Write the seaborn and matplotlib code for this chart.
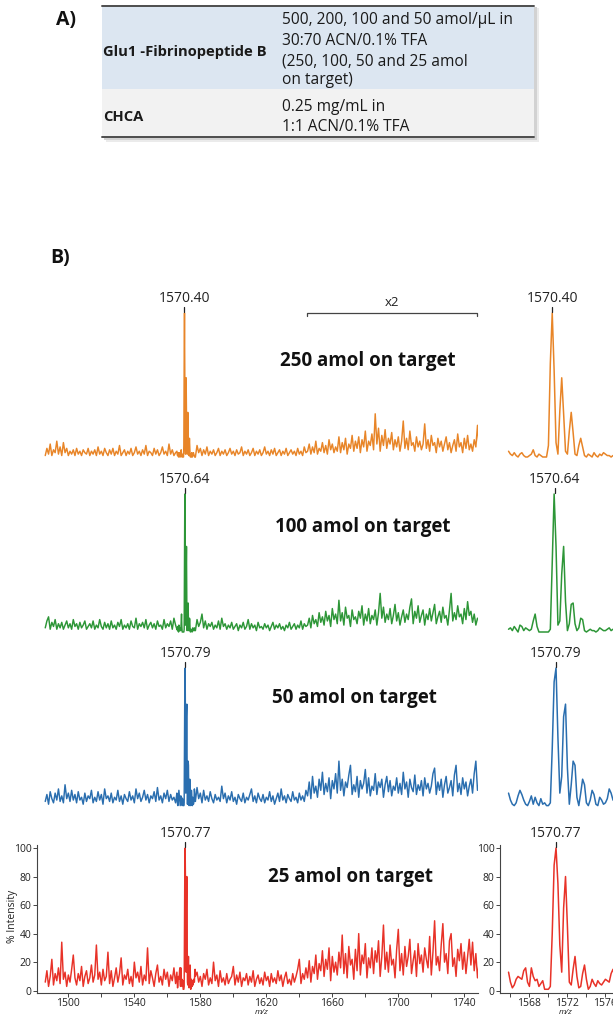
import numpy as np
import pandas as pd
import matplotlib.pyplot as plt
import seaborn as sns
from matplotlib.patches import Rectangle
from matplotlib.lines import Line2D
from matplotlib.ticker import MultipleLocator

sns.set_style("white")
plt.rcParams['font.family'] = ['Open Sans', 'DejaVu Sans']

W, H = 613, 1017

# ---- data -------------------------------------------------------------
amounts = ["250 amol on target", "100 amol on target", "50 amol on target", "25 amol on target"]
peak_labels = ["1570.40", "1570.64", "1570.79", "1570.77"]
peak_mz = [1570.40, 1570.64, 1570.79, 1570.77]
colors = ["#E88528", "#2D9637", "#2A6EAF", "#E83228"]

# noise, 1 m/z apart:
# left of the peak (from 1486), between peak and x2 zone (from 1578), x2 zone (from 1645)
left_start, mid_start, x2_start, noise_step = 1486, 1578, 1645, 1.0
# high-resolution profile around the peak (right-hand panels), 0.2 m/z apart
zoom_start, zoom_step = 1565.8, 0.2

left_250 = [1, 6, 2, 9, 1, 5, 3, 11, 2, 7,
            1, 10, 3, 6, 1, 4, 2, 5, 1, 6,
            2, 4, 1, 5, 3, 2, 6, 1, 4, 2,
            5, 1, 7, 2, 4, 1, 6, 3, 1, 5,
            2, 6, 1, 4, 2, 8, 1, 3, 5, 1,
            4, 2, 6, 1, 3, 7, 2, 4, 1, 5,
            2, 8, 1, 4, 3, 1, 6, 2, 5, 1,
            3, 7, 2, 4, 1, 9, 2, 5, 1, 3]
mid_250 = [8, 3, 6, 1, 5, 2, 7, 1, 4, 2,
           5, 1, 3, 6, 1, 4, 2, 5, 1, 3,
           6, 2, 4, 1, 5, 2, 3, 7, 1, 4,
           2, 5, 1, 3, 6, 1, 4, 2, 5, 1,
           3, 7, 2, 4, 1, 5, 2, 6, 1, 3,
           5, 1, 4, 2, 6, 1, 3, 5, 2, 4,
           1, 6, 2, 4, 1, 7, 3]
x2_250 = [4, 9, 2, 7, 3, 11, 2, 6, 4, 10,
          3, 8, 2, 12, 5, 9, 3, 7, 4, 14,
          3, 10, 5, 13, 2, 9, 6, 15, 4, 11,
          6, 14, 3, 12, 7, 18, 4, 11, 8, 16,
          5, 30, 9, 20, 4, 15, 8, 19, 6, 13,
          9, 17, 5, 12, 7, 14, 4, 11, 25, 6,
          13, 5, 18, 8, 10, 4, 14, 7, 11, 5,
          9, 23, 6, 12, 4, 15, 8, 10, 3, 13,
          7, 11, 4, 9, 14, 5, 10, 3, 8, 12,
          4, 16, 7, 10, 3, 13, 6, 15, 5, 9,
          4, 12, 7, 22, 6]
zoom_250 = [4, 2, 1, 3, 1, 0, 2, 3, 1, 0,
            0, 1, 2, 5, 1, 0, 2, 1, 0, 0,
            0, 8, 65, 100, 60, 10, 2, 32, 55, 30,
            4, 2, 18, 31, 17, 2, 1, 8, 13, 7,
            1, 0, 2, 1, 0, 3, 1, 0, 2, 1,
            3, 2, 1, 1, 0, 1, 0]

left_100 = [3, 8, 11, 2, 7, 4, 9, 2, 6, 3,
            7, 2, 5, 8, 3, 6, 2, 9, 4, 6,
            2, 7, 3, 5, 8, 2, 4, 6, 3, 8,
            2, 5, 3, 9, 4, 2, 7, 3, 6, 2,
            8, 3, 5, 2, 7, 4, 9, 2, 5, 3,
            6, 2, 8, 4, 3, 10, 2, 6, 4, 7,
            3, 9, 2, 5, 7, 3, 6, 2, 8, 4,
            5, 2, 9, 3, 6, 4, 8, 2, 10, 5]
mid_100 = [9, 4, 7, 13, 3, 8, 2, 6, 4, 7,
           2, 5, 3, 8, 2, 10, 4, 6, 2, 5,
           3, 7, 2, 4, 6, 1, 5, 3, 7, 2,
           4, 9, 2, 6, 3, 5, 1, 7, 3, 4,
           2, 6, 3, 5, 1, 4, 7, 2, 5, 3,
           6, 2, 4, 1, 5, 3, 7, 2, 4, 6,
           2, 5, 3, 8, 2, 6, 4]
x2_100 = [5, 10, 3, 12, 6, 9, 4, 14, 7, 11,
          5, 15, 8, 12, 4, 17, 9, 13, 6, 23,
          8, 14, 5, 18, 10, 12, 4, 16, 9, 11,
          6, 15, 10, 19, 5, 13, 8, 17, 6, 12,
          9, 16, 5, 14, 28, 10, 18, 7, 13, 9,
          17, 6, 12, 20, 8, 14, 5, 11, 16, 7,
          13, 9, 18, 24, 6, 15, 10, 19, 7, 12,
          16, 5, 13, 9, 17, 8, 14, 20, 6, 11,
          15, 7, 18, 10, 12, 5, 16, 28, 8, 14,
          9, 19, 11, 13, 6, 17, 9, 22, 12, 15,
          7, 13, 5, 10, 8]
zoom_100 = [2, 3, 1, 4, 2, 0, 5, 4, 1, 3,
            2, 1, 2, 8, 13, 4, 0, 0, 0, 0,
            0, 0, 2, 50, 100, 62, 5, 8, 42, 62,
            22, 1, 6, 20, 21, 6, 1, 3, 10, 9,
            1, 0, 1, 2, 1, 1, 0, 1, 3, 2,
            1, 1, 2, 3, 1, 2, 1]

left_50 = [4, 9, 2, 11, 6, 3, 10, 5, 13, 4,
           8, 3, 16, 6, 10, 4, 12, 5, 9, 3,
           11, 5, 7, 2, 10, 4, 8, 6, 12, 3,
           7, 4, 11, 5, 9, 2, 13, 6, 8, 4,
           10, 3, 7, 5, 12, 4, 8, 2, 9, 6,
           4, 11, 5, 8, 3, 13, 6, 10, 4, 7,
           12, 5, 9, 3, 8, 6, 11, 4, 14, 5,
           8, 3, 10, 6, 12, 4, 9, 5, 7, 3]
mid_50 = [14, 6, 10, 3, 12, 5, 8, 4, 11, 6,
          3, 9, 5, 7, 4, 15, 6, 10, 3, 8,
          5, 11, 4, 7, 2, 9, 6, 4, 10, 3,
          7, 5, 9, 13, 4, 8, 3, 10, 6, 4,
          9, 3, 7, 5, 11, 4, 8, 2, 6, 10,
          4, 13, 5, 8, 3, 9, 6, 4, 11, 5,
          7, 3, 10, 5, 8, 4, 12]
x2_50 = [8, 18, 6, 22, 10, 15, 7, 20, 12, 25,
         9, 17, 11, 21, 6, 19, 13, 24, 10, 33,
         12, 20, 8, 18, 14, 23, 30, 9, 16, 11,
         22, 7, 19, 13, 17, 27, 10, 21, 8, 15,
         12, 24, 9, 18, 14, 20, 7, 16, 22, 11,
         19, 8, 15, 12, 21, 10, 17, 9, 25, 13,
         18, 7, 20, 14, 11, 23, 9, 16, 12, 19,
         8, 21, 13, 17, 10, 15, 24, 28, 9, 18,
         12, 20, 7, 16, 22, 10, 14, 19, 8, 23,
         30, 11, 17, 9, 21, 13, 18, 8, 15, 20,
         10, 24, 33, 12, 17]
zoom_50 = [10, 5, 2, 1, 3, 8, 12, 9, 5, 2,
           1, 4, 8, 2, 7, 3, 1, 6, 2, 3,
           1, 1, 3, 42, 90, 100, 50, 10, 22, 65,
           74, 28, 2, 16, 33, 30, 7, 1, 10, 20,
           16, 3, 1, 5, 12, 9, 2, 1, 7, 5,
           2, 3, 6, 13, 10, 5, 4]

left_25 = [6, 14, 3, 10, 22, 4, 12, 7, 16, 5,
           34, 8, 13, 3, 11, 6, 15, 25, 9, 4,
           12, 7, 17, 3, 10, 14, 5, 9, 18, 6,
           11, 32, 8, 13, 4, 15, 7, 10, 27, 5,
           14, 3, 9, 16, 6, 12, 23, 4, 11, 8,
           15, 5, 10, 3, 20, 9, 13, 6, 17, 4,
           11, 7, 30, 5, 14, 9, 3, 12, 18, 6,
           10, 4, 15, 8, 13, 3, 11, 7, 16, 5]
mid_25 = [13, 6, 10, 3, 12, 8, 15, 4, 9, 5,
          20, 7, 11, 3, 14, 6, 9, 4, 12, 5,
          8, 10, 17, 4, 11, 6, 13, 3, 9, 7,
          12, 4, 10, 6, 14, 3, 8, 11, 5, 9,
          4, 13, 7, 10, 3, 12, 6, 9, 5, 14,
          7, 11, 3, 9, 13, 5, 8, 4, 12, 6,
          10, 15, 22, 5, 12, 8, 16]
x2_25 = [9, 21, 6, 17, 12, 25, 8, 19, 14, 28,
         10, 22, 15, 30, 7, 24, 13, 20, 11, 27,
         16, 39, 12, 26, 9, 31, 18, 22, 8, 29,
         14, 40, 11, 25, 19, 33, 9, 23, 16, 30,
         12, 28, 20, 35, 10, 24, 46, 15, 27, 13,
         32, 18, 22, 9, 29, 43, 14, 26, 11, 31,
         17, 24, 36, 12, 21, 28, 10, 33, 19, 25,
         13, 30, 22, 16, 38, 11, 27, 49, 18, 24,
         14, 32, 47, 20, 26, 12, 35, 40, 17, 23,
         10, 29, 21, 33, 15, 27, 12, 24, 36, 18,
         34, 14, 26, 9, 20]
zoom_25 = [13, 6, 2, 4, 8, 10, 9, 8, 14, 16,
           6, 3, 16, 10, 7, 8, 3, 5, 7, 1,
           1, 1, 3, 40, 88, 100, 75, 32, 13, 58,
           80, 45, 6, 4, 15, 24, 10, 2, 3, 12,
           18, 8, 1, 3, 8, 5, 3, 7, 5, 4,
           6, 8, 7, 6, 12, 15, 10]

left_noise = [left_250, left_100, left_50, left_25]
mid_noise = [mid_250, mid_100, mid_50, mid_25]
x2_noise = [x2_250, x2_100, x2_50, x2_25]
zooms = [zoom_250, zoom_100, zoom_50, zoom_25]

main_ticks = [1500, 1520, 1540, 1560, 1580, 1600, 1620, 1640, 1660, 1680, 1700, 1720, 1740]
main_tick_labels = ["1500", "", "1540", "", "1580", "", "1620", "", "1660", "", "1700", "", "1740"]
zoom_ticks = [1566, 1568, 1570, 1572, 1574, 1576]
zoom_tick_labels = ["", "1568", "", "1572", "", "1576"]
y_ticks = [0, 20, 40, 60, 80, 100]

# ---- layout (pixel positions) ----------------------------------------
rows_px = [(313, 457), (494, 632), (668, 807), (848, 990.7)]
label_px = [(368, 361), (363, 527), (354, 698), (351, 877)]
main_x = (37, 478)
zoom_x = (500, 613)
main_xlim = (1481, 1748.3)
zoom_xlim = (1564.9, 1576.8)
YLIM = (-1.5, 102)
dark = "#222222"
axis_gray = "#444444"

fig = plt.figure(figsize=(W / 100, H / 100), dpi=100)


def axes_px(x0, x1, y100, y0):
    s = (y0 - y100) / 100.0
    bot = y0 - YLIM[0] * s
    top = y100 - (YLIM[1] - 100) * s
    return fig.add_axes([x0 / W, 1 - bot / H, (x1 - x0) / W, (bot - top) / H])


def ftext(x, y, s, **kw):
    fig.text(x / W, 1 - y / H, s, **kw)


def spectrum(i):
    zx = zoom_start + zoom_step * np.arange(len(zooms[i]))
    parts_x, parts_y = [], []
    for start, vals in ((left_start, left_noise[i]), (mid_start, mid_noise[i]), (x2_start, x2_noise[i])):
        x = start + noise_step * np.arange(len(vals))
        keep = (x < zx[0]) | (x > zx[-1])
        parts_x.append(x[keep])
        parts_y.append(np.array(vals)[keep])
    parts_x.append(zx)
    parts_y.append(np.array(zooms[i]))
    df = pd.DataFrame({'mz': np.concatenate(parts_x), 'intensity': np.concatenate(parts_y)})
    df = df.sort_values('mz')
    zdf = pd.DataFrame({'mz': zx, 'intensity': zooms[i]})
    return df, zdf


def peak_label(ax, mz, label):
    ax.annotate(label, xy=(mz, 100), xytext=(0, 7), textcoords='offset pixels',
                ha='center', va='bottom', fontsize=10, color=dark, annotation_clip=False)
    ax.plot([mz, mz], [101, 104.5], color=dark, lw=0.9, clip_on=False)


for i in range(4):
    y100, y0 = rows_px[i]
    df, zdf = spectrum(i)

    ax = axes_px(main_x[0], main_x[1], y100, y0)
    sns.lineplot(data=df, x='mz', y='intensity', ax=ax, color=colors[i], lw=1.05,
                 estimator=None, sort=False, legend=False)
    ax.set_xlim(main_xlim)
    ax.set_ylim(YLIM)
    peak_label(ax, peak_mz[i], peak_labels[i])

    axz = axes_px(zoom_x[0], zoom_x[1], y100, y0)
    sns.lineplot(data=zdf, x='mz', y='intensity', ax=axz, color=colors[i], lw=1.1,
                 estimator=None, legend=False)
    axz.set_xlim(zoom_xlim)
    axz.set_ylim(YLIM)
    peak_label(axz, peak_mz[i], peak_labels[i])

    for a in (ax, axz):
        a.set_xlabel("")
        a.set_ylabel("")
        a.set_facecolor("none")
        if i < 3:
            a.axis('off')
        else:
            sns.despine(ax=a)
            for sp in ('left', 'bottom'):
                a.spines[sp].set_color(axis_gray)
                a.spines[sp].set_linewidth(0.8)
            a.set_yticks(y_ticks)
            a.set_yticklabels([str(t) for t in y_ticks])
            a.tick_params(axis='both', direction='out', length=3, width=0.7,
                          colors=axis_gray, labelcolor=dark, labelsize=7.5, pad=1)
            a.tick_params(axis='x', which='minor', direction='out', length=2, width=0.6,
                          colors=axis_gray)
            a.tick_params(left=True, bottom=True)

    ftext(label_px[i][0], label_px[i][1], amounts[i], ha='center', va='center',
          fontsize=13.5, fontweight='bold', color="#111111")

    if i == 3:
        ax.set_xticks(main_ticks)
        ax.set_xticklabels(main_tick_labels)
        ax.xaxis.set_minor_locator(MultipleLocator(10))
        axz.set_xticks(zoom_ticks)
        axz.set_xticklabels(zoom_tick_labels)
        axz.xaxis.set_minor_locator(MultipleLocator(1))

    if i == 0:
        # x2 bracket over the upper m/z range
        bx0, bx1 = 1644.6, 1747.5
        ax.plot([bx0, bx0, bx1, bx1], [98, 100, 100, 98], color=axis_gray, lw=0.9,
                clip_on=False)
        ax.annotate("x2", xy=((bx0 + bx1) / 2, 100), xytext=(0, 4), textcoords='offset pixels',
                    ha='center', va='bottom', fontsize=9.5, color=dark, annotation_clip=False)

ftext(13, 916, "% Intensity", rotation=90, ha='center', va='center', fontsize=7.5, color=dark)
ftext(262, 1012.5, "m/z", ha='center', va='center', fontsize=6, style='italic', color=dark)
ftext(566, 1012.5, "m/z", ha='center', va='center', fontsize=6, style='italic', color=dark)

# ---- panel A: conditions table ---------------------------------------
def rect_px(x0, y0, x1, y1, **kw):
    fig.add_artist(Rectangle((x0 / W, 1 - y1 / H), (x1 - x0) / W, (y1 - y0) / H,
                             transform=fig.transFigure, **kw))


def hline_px(x0, x1, y, **kw):
    fig.add_artist(Line2D([x0 / W, x1 / W], [1 - y / H, 1 - y / H],
                          transform=fig.transFigure, **kw))


tl, tr = 102, 534
rect_px(tl + 4, 8, tr + 5, 142, color="#EBEBEB", lw=0)
rect_px(tl + 2, 7, tr + 2.5, 140, color="#D2D2D2", lw=0)
rect_px(tl, 6, tr, 88.5, color="#DCE6F1", lw=0)
rect_px(tl, 89.5, tr, 136.5, color="#F2F2F2", lw=0)
hline_px(tl, tr, 5.5, color="#4D4D4D", lw=1.4)
hline_px(tl, tr, 137, color="#4D4D4D", lw=1.4)

table_fs, table_bold_fs = 11.2, 10.6
ftext(103, 52, "Glu1 -Fibrinopeptide B", ha='left', va='center', fontsize=table_bold_fs,
      fontweight='bold', color="#1A1A1A")
glu_lines = ["500, 200, 100 and 50 amol/\u00b5L in", "30:70 ACN/0.1% TFA",
             "(250, 100, 50 and 25 amol", "on target)"]
for yy, s in zip([20, 41, 61, 80], glu_lines):
    ftext(282, yy, s, ha='left', va='center', fontsize=table_fs, color="#1A1A1A")
ftext(103, 117, "CHCA", ha='left', va='center', fontsize=table_bold_fs, fontweight='bold',
      color="#1A1A1A")
ftext(282, 107, "0.25 mg/mL in", ha='left', va='center', fontsize=table_fs, color="#1A1A1A")
ftext(282, 127, "1:1 ACN/0.1% TFA", ha='left', va='center', fontsize=table_fs, color="#1A1A1A")

ftext(66, 20, "A)", ha='center', va='center', fontsize=14, fontweight='bold', color="#111111")
ftext(60, 258, "B)", ha='center', va='center', fontsize=14, fontweight='bold', color="#111111")

fig.savefig("out.png", dpi=100)
